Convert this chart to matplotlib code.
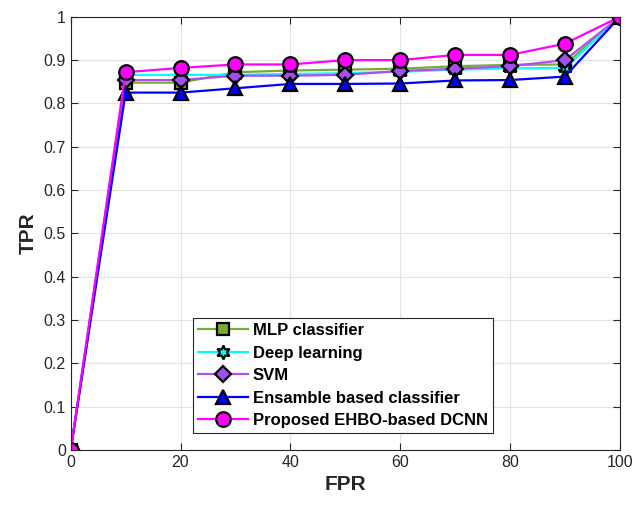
import matplotlib
matplotlib.use('Agg')
import matplotlib.pyplot as plt

plt.rcParams['font.family'] = ['Liberation Sans', 'DejaVu Sans']

fpr = [0, 10, 20, 30, 40, 50, 60, 70, 80, 90, 100]

mlp = [0, 0.848, 0.848, 0.872, 0.876, 0.878, 0.880, 0.886, 0.889, 0.890, 1.0]
deep = [0, 0.866, 0.866, 0.866, 0.868, 0.870, 0.873, 0.878, 0.881, 0.882, 1.0]
svm = [0, 0.854, 0.854, 0.864, 0.864, 0.866, 0.875, 0.880, 0.886, 0.900, 1.0]
ensemble = [0, 0.825, 0.825, 0.835, 0.845, 0.845, 0.846, 0.853, 0.854, 0.862, 1.0]
proposed = [0, 0.872, 0.882, 0.890, 0.890, 0.900, 0.900, 0.912, 0.912, 0.938, 1.0]

names = ['MLP classifier', 'Deep learning', 'SVM',
         'Ensamble based classifier', 'Proposed EHBO-based DCNN']

fig = plt.figure(figsize=(6.43, 5.09), dpi=100)
ax = fig.add_axes([0.110, 0.116, 0.854, 0.851])

styles = [
    (mlp, '#77ac30', '#77ac30', 's', 8),
    (deep, '#00ffff', '#00ffff', (6, 1, 0), 10),
    (svm, '#b04ff0', '#a24ff0', 'D', 8),
    (ensemble, '#0000ff', '#0000ff', '^', 10.5),
    (proposed, '#ff00ff', '#ff00ff', 'o', 10.5),
]
for (vals, lc, fc, mk, ms), name in zip(styles, names):
    ax.plot(fpr, vals, color=lc, lw=1.6, marker=mk, markersize=ms,
            markerfacecolor=fc, markeredgecolor='black', markeredgewidth=1.6,
            label=name)

ax.set_xlim(0, 100)
ax.set_ylim(0, 1)
ax.set_xticks(range(0, 101, 20))
ax.set_yticks([i / 10 for i in range(11)])
ax.set_yticklabels(['0', '0.1', '0.2', '0.3', '0.4', '0.5', '0.6', '0.7', '0.8', '0.9', '1'])
ax.tick_params(direction='in', length=5, colors='#262626', labelsize=11.5,
               top=True, right=True)
ax.grid(True, color='#e3e3e3', lw=0.8)
for s in ax.spines.values():
    s.set_color('#262626')
    s.set_linewidth(0.8)

ax.set_xlabel('FPR', fontsize=15, fontweight='bold', color='#262626')
ax.set_ylabel('TPR', fontsize=15, fontweight='bold', color='#262626')

leg = ax.legend(loc='lower left', bbox_to_anchor=(0.222, 0.039),
                prop={'weight': 'bold', 'size': 12}, fancybox=False,
                edgecolor='#262626', framealpha=1, handlelength=3.0,
                borderpad=0.3, labelspacing=0.45, handletextpad=0.3,
                borderaxespad=0)
leg.get_frame().set_linewidth(0.8)

fig.savefig('out.png', dpi=100)
